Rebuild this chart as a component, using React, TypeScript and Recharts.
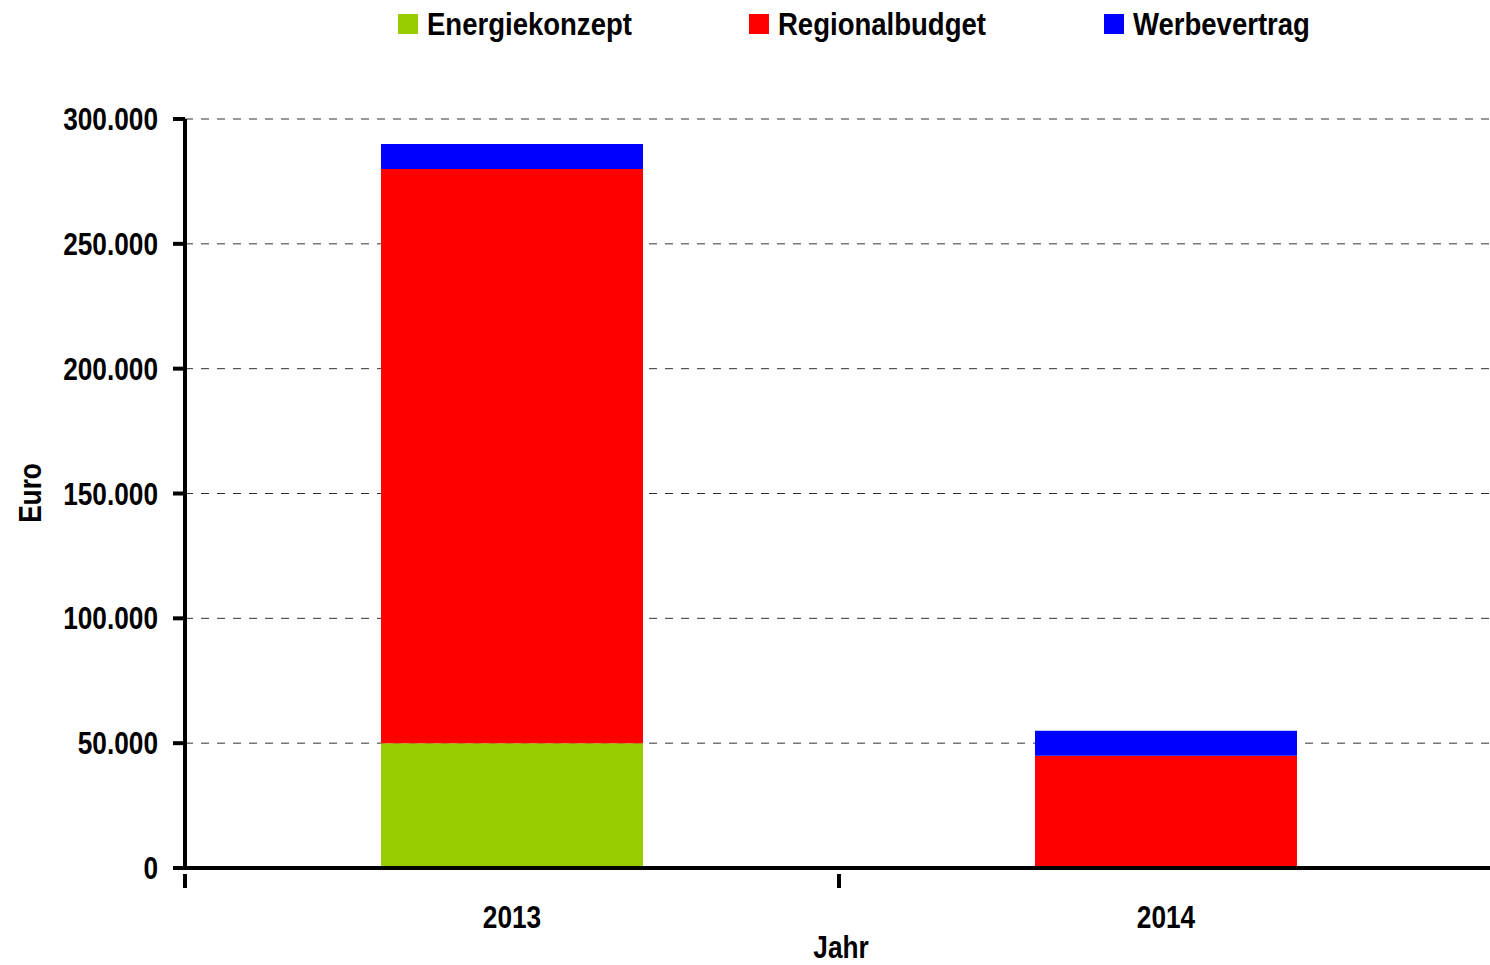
import { BarChart, Bar, XAxis, YAxis, CartesianGrid } from "recharts";

const years = ["2013", "2014"];
const energiekonzept = [50000, 0];
const regionalbudget = [230000, 45000];
const werbevertrag = [10000, 10000];
const yTicks = [0, 50000, 100000, 150000, 200000, 250000, 300000];

const SERIES = [
  { key: "Energiekonzept", color: "#99CC00", left: 398 },
  { key: "Regionalbudget", color: "#FF0000", left: 749 },
  { key: "Werbevertrag", color: "#0000FF", left: 1104 },
];

const data = years.map((y, i) => ({
  year: y,
  Energiekonzept: energiekonzept[i],
  Regionalbudget: regionalbudget[i],
  Werbevertrag: werbevertrag[i],
}));

// no Arial Narrow here, so squeeze Liberation Sans (same metrics as Arial)
const FONT = "'Liberation Sans', Arial, sans-serif";
const SQ = 0.82;
const FS = 32;

function fmt(v: number) {
  return String(v).replace(/\B(?=(\d{3})+(?!\d))/g, ".");
}

function Narrow({ x, y, anchor, rotate, children }: any) {
  return (
    <text
      transform={`translate(${x},${y})${rotate ? ` rotate(${rotate})` : ""} scale(${SQ},1)`}
      textAnchor={anchor}
      fontFamily={FONT}
      fontWeight="bold"
      fontSize={FS}
      fill="#000"
    >
      {children}
    </text>
  );
}

function XTick(props: any) {
  const { x, y, payload } = props;
  const half = 327;
  return (
    <g>
      <line x1={x - half} x2={x - half} y1={y - 2} y2={y + 12} stroke="#000" strokeWidth={4} />
      <Narrow x={x} y={y + 52} anchor="middle">{payload.value}</Narrow>
    </g>
  );
}

function YTick(props: any) {
  const { x, y, payload } = props;
  return (
    <Narrow x={x} y={y + 11} anchor="end">{fmt(payload.value)}</Narrow>
  );
}

function LegendBox() {
  return (
    <div style={{ position: "absolute", left: 0, top: 0, width: 1490, height: 50 }}>
      {SERIES.map((s) => (
        <div key={s.key} style={{ position: "absolute", left: s.left, top: 14, height: 20 }}>
          <span style={{ position: "absolute", left: 0, top: 0, width: 20, height: 20, background: s.color }} />
          <span
            style={{
              position: "absolute",
              left: 29,
              top: -8,
              whiteSpace: "nowrap",
              fontFamily: FONT,
              fontWeight: "bold",
              fontSize: FS,
              lineHeight: "36px",
              color: "#000",
              transform: "scaleX(0.86)",
              transformOrigin: "0 0",
            }}
          >
            {s.key}
          </span>
        </div>
      ))}
    </div>
  );
}

export default function App() {
  return (
    <div style={{ position: "absolute", left: 0, top: 0, width: 1490, height: 965, background: "#fff", overflow: "hidden" }}>
      <BarChart width={1490} height={965} data={data} margin={{ top: 119, right: -3, bottom: 0, left: 0 }}>
        <CartesianGrid vertical={false} horizontalValues={[50000, 100000, 150000, 200000, 250000, 300000]} stroke="#333" strokeDasharray="8 8" />
        <XAxis
          dataKey="year"
          height={97}
          axisLine={{ stroke: "#000", strokeWidth: 4 }}
          tickLine={false}
          tick={<XTick />}
          label={{ content: () => <Narrow x={841} y={958} anchor="middle">Jahr</Narrow> }}
        />
        <YAxis
          width={185}
          domain={[0, 300000]}
          ticks={yTicks}
          interval={0}
          axisLine={{ stroke: "#000", strokeWidth: 4 }}
          tickLine={{ stroke: "#000", strokeWidth: 4 }}
          tickSize={12}
          tickMargin={15}
          tick={<YTick />}
          label={{ content: () => <Narrow x={41} y={493} anchor="middle" rotate={-90}>Euro</Narrow> }}
        />
        {SERIES.map((s) => (
          <Bar key={s.key} dataKey={s.key} stackId="a" fill={s.color} barSize={262} isAnimationActive={false} />
        ))}
      </BarChart>
      <LegendBox />
    </div>
  );
}
